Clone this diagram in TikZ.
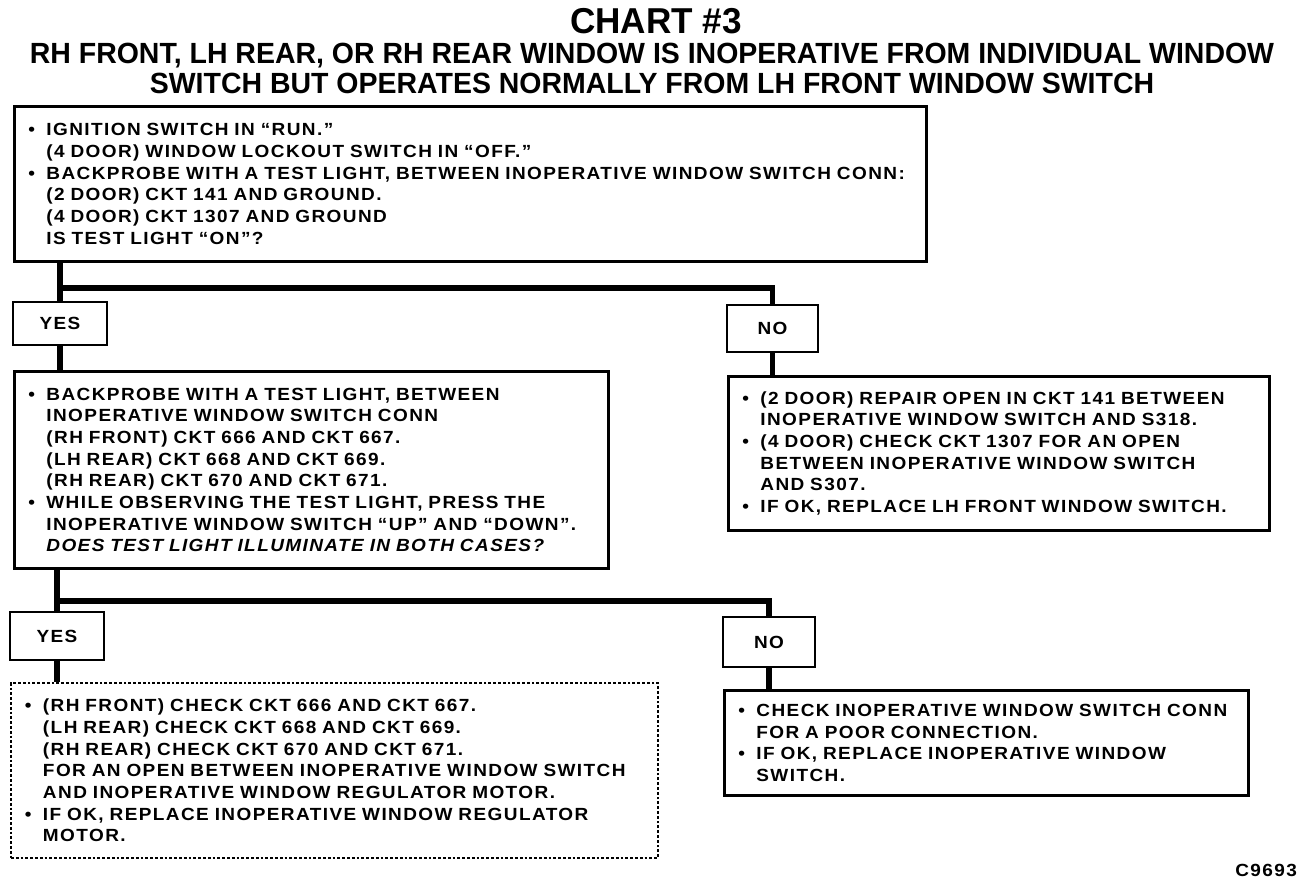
\documentclass[tikz,border=0pt]{standalone}
\usepackage{fontspec}
\newfontfamily\chartfont{Liberation Sans}[FakeStretch=1.08,LetterSpace=8]
\newfontfamily\headfont{Liberation Sans}[FakeStretch=.975]
\newcommand\boxfnt{\chartfont\bfseries\fontsize{8.8}{10.85}\selectfont}
\newcommand\itembul{\makebox[9pt][l]{\textbullet}}
\newcommand\itemind{\hspace*{9pt}}

\begin{document}
\begin{tikzpicture}[x=.5pt,y=-.5pt,every node/.style={font=\boxfnt},
  box/.style={draw,line width=1.4pt,anchor=north west,inner xsep=7pt,inner ysep=0pt,align=left},
  tag/.style={draw,line width=1.4pt,inner sep=0pt},
  conn/.style={line width=2.8pt}]
\useasboundingbox (0,0) rectangle (1312,888);
\node[font=\headfont\bfseries\fontsize{18}{20}\selectfont] (title) at (656,21) {CHART \#3};
\node[font=\headfont\bfseries\fontsize{14.6}{15}\selectfont,align=center] (sub) at (652,68)
 {RH FRONT, LH REAR, OR RH REAR WINDOW IS INOPERATIVE FROM INDIVIDUAL WINDOW\\
  SWITCH BUT OPERATES NORMALLY FROM LH FRONT WINDOW SWITCH};
\node[box,text width=442pt,minimum height=77.5pt] (chk1) at (13,105)
 {\itembul IGNITION SWITCH IN “RUN.”\\
  \itemind (4 DOOR) WINDOW LOCKOUT SWITCH IN “OFF.”\\
  \itembul BACKPROBE WITH A TEST LIGHT, BETWEEN INOPERATIVE WINDOW SWITCH CONN:\\
  \itemind (2 DOOR) CKT 141 AND GROUND.\\
  \itemind (4 DOOR) CKT 1307 AND GROUND\\
  \itemind IS TEST LIGHT “ON”?};
\node[tag,minimum width=47pt,minimum height=21.5pt] (yes1) at (60,323.5) {YES};
\node[tag,minimum width=45.5pt,minimum height=23.5pt] (no1) at (772.5,328.5) {NO};
\node[box,text width=283pt,minimum height=98.5pt] (chk2) at (13,370)
 {\itembul BACKPROBE WITH A TEST LIGHT, BETWEEN\\
  \itemind INOPERATIVE WINDOW SWITCH CONN\\
  \itemind (RH FRONT) CKT 666 AND CKT 667.\\
  \itemind (LH REAR) CKT 668 AND CKT 669.\\
  \itemind (RH REAR) CKT 670 AND CKT 671.\\
  \itembul WHILE OBSERVING THE TEST LIGHT, PRESS THE\\
  \itemind INOPERATIVE WINDOW SWITCH “UP” AND “DOWN”.\\
  \itemind {\itshape DOES TEST LIGHT ILLUMINATE IN BOTH CASES?}};
\node[box,text width=256.5pt,minimum height=77pt] (fix1) at (727,375)
 {\itembul (2 DOOR) REPAIR OPEN IN CKT 141 BETWEEN\\
  \itemind INOPERATIVE WINDOW SWITCH AND S318.\\
  \itembul (4 DOOR) CHECK CKT 1307 FOR AN OPEN\\
  \itemind BETWEEN INOPERATIVE WINDOW SWITCH\\
  \itemind AND S307.\\
  \itembul IF OK, REPLACE LH FRONT WINDOW SWITCH.};
\node[tag,minimum width=47pt,minimum height=24pt] (yes2) at (57,636) {YES};
\node[tag,minimum width=46pt,minimum height=25pt] (no2) at (769,642) {NO};
\node[box,densely dotted,line width=1pt,text width=309.5pt,minimum height=87.5pt] (fix2) at (10,682)
 {\itembul (RH FRONT) CHECK CKT 666 AND CKT 667.\\
  \itemind (LH REAR) CHECK CKT 668 AND CKT 669.\\
  \itemind (RH REAR) CHECK CKT 670 AND CKT 671.\\
  \itemind FOR AN OPEN BETWEEN INOPERATIVE WINDOW SWITCH\\
  \itemind AND INOPERATIVE WINDOW REGULATOR MOTOR.\\
  \itembul IF OK, REPLACE INOPERATIVE WINDOW REGULATOR\\
  \itemind MOTOR.};
\node[box,text width=248pt,minimum height=52.5pt] (fix3) at (723,689)
 {\itembul CHECK INOPERATIVE WINDOW SWITCH CONN\\
  \itemind FOR A POOR CONNECTION.\\
  \itembul IF OK, REPLACE INOPERATIVE WINDOW\\
  \itemind SWITCH.};
\node[anchor=east] (fig) at (1304,870) {C9693};
\coordinate (j1) at (60,288);
\coordinate (j2) at (57,601);
\draw[conn] (chk1.south -| yes1) -- (yes1.north);
\draw[conn] (j1) -| (no1.north);
\draw[conn] (chk2.south -| yes2) -- (yes2.north);
\draw[conn] (j2) -| (no2.north);
\foreach \a/\b in {yes1/chk2,no1/fix1,yes2/fix2,no2/fix3}
  \draw[conn] (\a.south) -- (\a.south |- \b.north);
\end{tikzpicture}
\end{document}
